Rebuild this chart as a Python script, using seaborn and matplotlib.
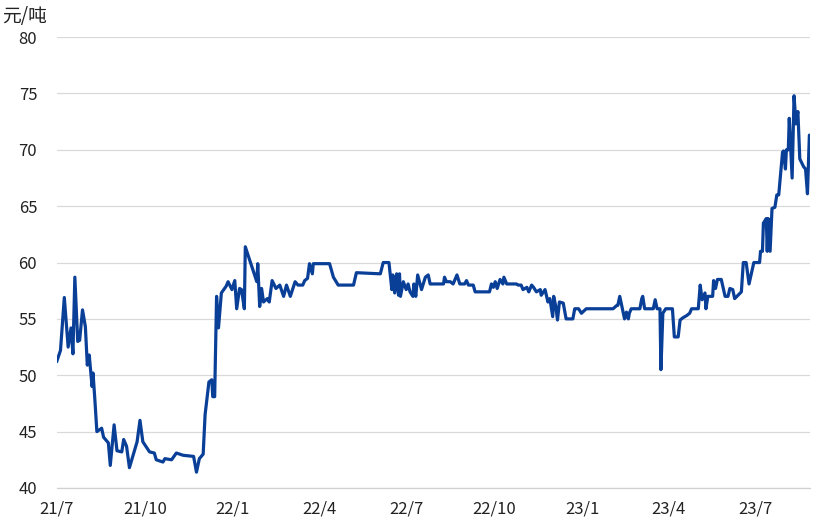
import numpy as np
import pandas as pd
import matplotlib
matplotlib.use("Agg")
import matplotlib.pyplot as plt
import seaborn as sns

# price series, days counted from 2021-07-01, values in 元/吨
start = "2021-07-01"
day_offsets = [
    0, 4, 8, 12, 15, 17, 19, 22, 24, 27, 30, 32, 34, 37, 38, 40, 42, 47, 49, 54,
    56, 60, 63, 68, 70, 73, 76, 84, 87, 90, 97, 102, 104, 111, 113, 120, 125, 132, 143, 146,
    149, 153, 155, 159, 162, 163, 165, 167, 169, 172, 177, 179, 183, 186, 188, 191, 193, 196, 197, 209,
    210, 212, 214, 216, 220, 222, 225, 229, 233, 237, 240, 244, 249, 252, 257, 259, 262, 264, 267, 268,
    285, 289, 294, 310, 313, 338, 341, 347, 350, 351, 353, 355, 357, 358, 359, 362, 365, 367, 369, 372,
    373, 375, 377, 381, 385, 388, 390, 404, 405, 407, 411, 414, 418, 421, 426, 428, 430, 435, 437, 452,
    454, 456, 458, 460, 463, 466, 467, 470, 480, 482, 485, 487, 491, 493, 496, 498, 501, 505, 506, 510,
    513, 515, 518, 519, 521, 523, 525, 529, 532, 539, 541, 545, 548, 553, 581, 585, 586, 588, 590, 593,
    595, 597, 598, 600, 609, 611, 612, 614, 623, 625, 627, 630, 631, 633, 636, 643, 645, 649, 651, 654,
    658, 661, 663, 670, 672, 674, 677, 678, 680, 685, 686, 688, 690, 694, 698, 701, 703, 706, 708, 715,
    717, 720, 723, 728, 734, 735, 737, 738, 741, 742, 743, 745, 747, 750, 752, 754, 758, 759, 761, 762,
    764, 765, 768, 770, 772, 774, 776, 780, 782, 784, 786,
]
prices = [
    51.2, 52.2, 56.9, 52.5, 54.2, 51.9, 58.7, 53.0, 53.1, 55.8, 54.3, 50.9, 51.8, 49.0, 50.2, 47.7, 45.0, 45.3, 44.5, 44.0,
    42.0, 45.6, 43.3, 43.2, 44.3, 43.7, 41.8, 44.1, 46.0, 44.1, 43.2, 43.1, 42.5, 42.3, 42.6, 42.5, 43.1, 42.9, 42.8, 41.4,
    42.6, 43.0, 46.5, 49.4, 49.6, 48.1, 48.1, 57.0, 54.2, 57.3, 57.9, 58.3, 57.6, 58.4, 55.9, 57.7, 57.6, 55.9, 61.4, 58.3,
    59.9, 56.1, 57.7, 56.5, 56.8, 56.5, 58.4, 57.7, 58.0, 57.0, 58.0, 57.0, 58.3, 58.0, 58.0, 58.4, 58.6, 59.9, 59.0, 59.9,
    59.9, 58.7, 58.0, 58.0, 59.1, 59.0, 60.0, 60.0, 57.6, 58.9, 57.3, 59.0, 57.1, 59.0, 57.0, 58.3, 57.6, 58.1, 57.4, 57.0,
    58.1, 57.0, 58.9, 57.6, 58.7, 58.9, 58.1, 58.1, 58.7, 58.3, 58.3, 58.1, 58.9, 58.1, 58.1, 58.4, 58.0, 58.0, 57.4, 57.4,
    58.1, 57.8, 58.3, 57.7, 58.5, 58.1, 58.7, 58.1, 58.1, 58.0, 58.0, 57.6, 57.8, 57.4, 58.0, 57.8, 57.4, 57.6, 57.1, 57.6,
    56.5, 56.8, 55.2, 57.0, 56.2, 54.9, 56.5, 56.4, 55.0, 55.0, 55.9, 55.9, 55.5, 55.9, 55.9, 56.2, 56.2, 57.0, 56.2, 55.0,
    55.6, 55.0, 55.5, 55.9, 55.9, 56.8, 57.0, 55.9, 55.9, 56.7, 55.9, 55.9, 50.5, 55.5, 55.9, 55.9, 53.4, 53.4, 54.9, 55.1,
    55.3, 55.5, 55.9, 55.9, 58.0, 56.7, 57.3, 55.9, 57.0, 57.0, 58.4, 57.7, 58.5, 58.5, 57.0, 57.0, 57.7, 57.6, 56.8, 57.4,
    60.0, 60.0, 58.1, 60.0, 60.0, 61.0, 61.0, 63.5, 63.9, 61.0, 63.9, 61.0, 64.8, 64.9, 66.0, 66.0, 69.8, 69.9, 68.3, 70.0,
    70.0, 72.8, 67.5, 74.8, 72.3, 73.4, 69.2, 68.5, 68.3, 66.1, 71.3,
]

tick_dates = ["2021-07-01", "2021-10-01", "2022-01-01", "2022-04-01", "2022-07-01",
              "2022-10-01", "2023-01-01", "2023-04-01", "2023-07-01"]
tick_labels = ["21/7", "21/10", "22/1", "22/4", "22/7", "22/10", "23/1", "23/4", "23/7"]
y_ticks = [40, 45, 50, 55, 60, 65, 70, 75, 80]

df = pd.DataFrame({
    "date": pd.Timestamp(start) + pd.to_timedelta(day_offsets, unit="D"),
    "price": prices,
})

sns.set_style("white")
plt.rcParams["font.family"] = ["Noto Sans CJK SC", "DejaVu Sans"]

fig = plt.figure(figsize=(8.21, 5.23), dpi=100)
ax = fig.add_axes([0.069, 0.067, 0.918, 0.862])

sns.lineplot(data=df, x="date", y="price", color="#0a3f98", linewidth=2.3, ax=ax)

ax.set_ylim(40, 80)
ax.set_xlim(pd.Timestamp(start), pd.Timestamp(start) + pd.Timedelta(days=787))
ax.set_yticks(y_ticks)
ax.set_yticklabels([str(v) for v in y_ticks], fontsize=12, color="#222222")
ax.set_xticks(pd.to_datetime(tick_dates))
ax.set_xticklabels(tick_labels, fontsize=12, color="#222222")
ax.grid(axis="y", color="#d9d9d9", linewidth=0.9)
ax.set_axisbelow(True)
ax.tick_params(axis="y", length=0, pad=14)
ax.tick_params(axis="x", length=5, color="#d0d0d0", width=0.9, pad=4)
for side in ["top", "right", "left"]:
    ax.spines[side].set_visible(False)
ax.spines["bottom"].set_color("#d0d0d0")
ax.spines["bottom"].set_linewidth(0.9)
ax.set_xlabel("")
ax.set_ylabel("")

fig.text(0.002, 0.968, "元/吨", fontsize=13.5, color="#222222", va="center", ha="left")

fig.savefig("out.png", dpi=100)
